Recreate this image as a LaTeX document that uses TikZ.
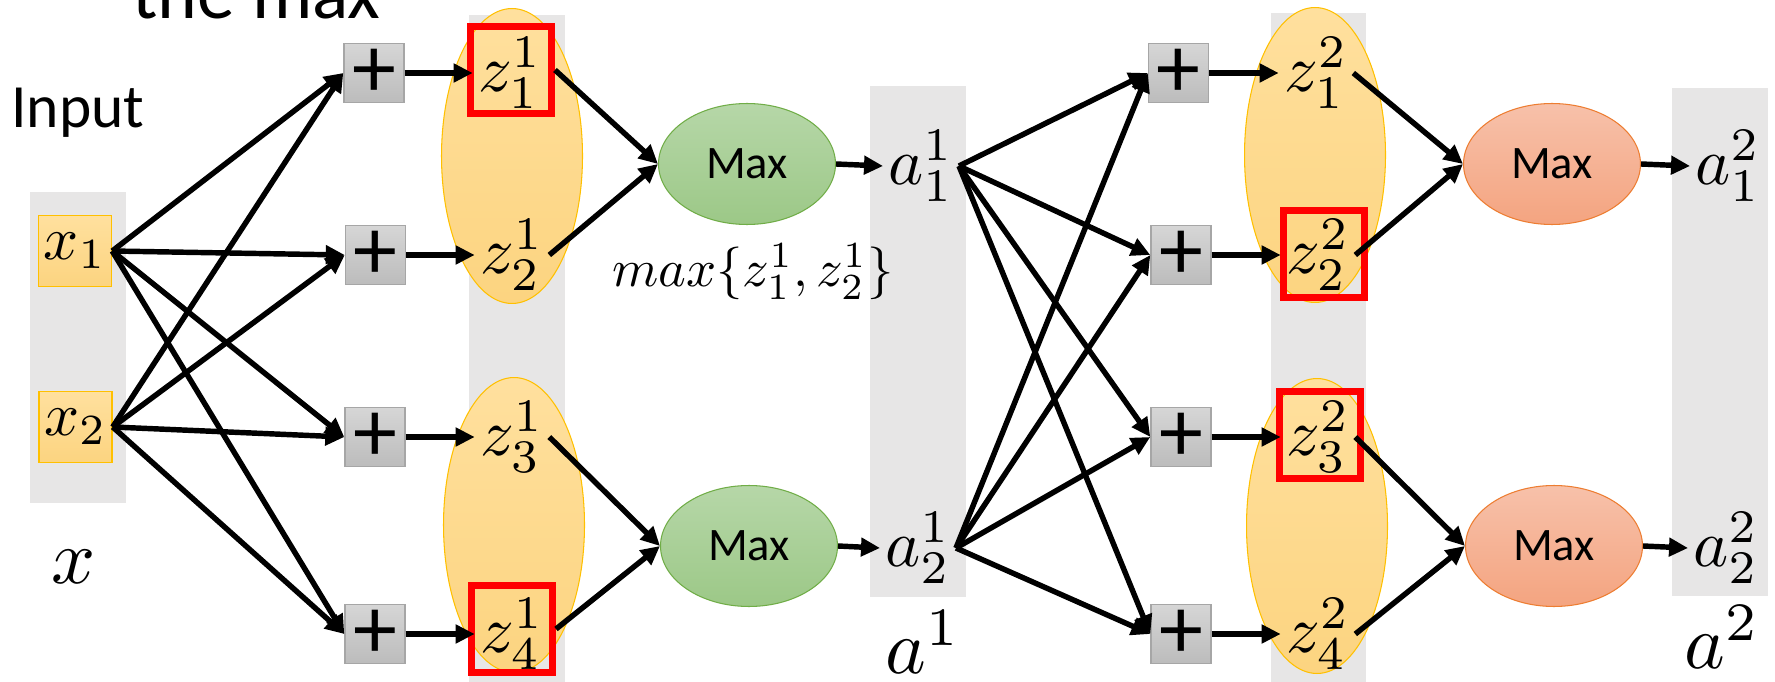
\documentclass[tikz,border=0pt]{standalone}
\usepackage{graphicx}
\usepackage[no-math]{fontspec}
\setmainfont{Carlito}
\usetikzlibrary{arrows.meta,shapes.geometric}
\definecolor{colbg}{RGB}{231,230,230}
\definecolor{orT}{RGB}{255,224,158}
\definecolor{orB}{RGB}{252,212,128}
\definecolor{orD}{RGB}{255,192,0}
\definecolor{grT}{RGB}{182,215,168}
\definecolor{grB}{RGB}{156,200,135}
\definecolor{grD}{RGB}{112,173,71}
\definecolor{saT}{RGB}{247,193,170}
\definecolor{saB}{RGB}{244,164,128}
\definecolor{saD}{RGB}{237,125,49}
\definecolor{plT}{RGB}{214,214,214}
\definecolor{plB}{RGB}{188,188,188}
\definecolor{plD}{RGB}{166,166,166}
\newcommand{\zm}[1]{\scalebox{3.8}{$#1$}}
\newcommand{\xm}[1]{\scalebox{3.5}{$#1$}}
\newcommand{\bm}[1]{\scalebox{4.4}{$#1$}}
\newcommand{\mm}[1]{\scalebox{3.0}{$#1$}}
\newcommand{\plusfs}{\fontsize{50}{54}\selectfont}
\newcommand{\maxfs}{\fontsize{26.5}{30}\selectfont}
\newcommand{\inputfs}{\fontsize{35}{40}\selectfont}
\newcommand{\titlefs}{\fontsize{43}{48}\selectfont}
\tikzset{
  colbox/.style={fill=colbg},
  grp/.style={ellipse, draw=orD, line width=0.6pt, top color=orT, bottom color=orB,
    minimum width=2.82cm, minimum height=5.9cm, inner sep=0pt},
  inbox/.style={rectangle, draw=orD, line width=0.8pt, top color=orT, bottom color=orB,
    minimum width=1.46cm, minimum height=1.42cm, inner sep=0pt},
  plusbox/.style={rectangle, draw=plD, line width=0.8pt, top color=plT, bottom color=plB,
    minimum width=1.2cm, minimum height=1.18cm, inner sep=0pt, font=\plusfs},
  maxg/.style={ellipse, draw=grD, line width=0.6pt, top color=grT, bottom color=grB,
    minimum width=3.54cm, minimum height=2.42cm, inner sep=0pt, font=\maxfs},
  maxo/.style={ellipse, draw=saD, line width=0.6pt, top color=saT, bottom color=saB,
    minimum width=3.54cm, minimum height=2.42cm, inner sep=0pt, font=\maxfs},
  lab/.style={inner sep=0.1cm},
  biglab/.style={inner sep=0pt},
  hl/.style={rectangle, draw=red, line width=4pt, minimum width=1.62cm,
    minimum height=1.74cm, inner sep=0pt},
  arr/.style={line width=3.1pt, -{Triangle[length=0.38cm,width=0.36cm]}}
}
\begin{document}
\begin{tikzpicture}[x=0.02cm,y=-0.02cm]
\useasboundingbox (0,0) rectangle (1775,682);
\clip (0,0) rectangle (1775,682);
% grey columns
\fill[colbox] (29.5,192) rectangle (125.5,503);
\fill[colbox] (469,15) rectangle (564.5,682);
\fill[colbox] (870,86) rectangle (965.5,597);
\fill[colbox] (1271,13) rectangle (1366,682);
\fill[colbox] (1672,88) rectangle (1768,596);
% group ellipses
\node[grp] (g1) at (512,156) {};
\node[grp] (g2) at (514,525) {};
\node[grp] (g3) at (1315,155) {};
\node[grp] (g4) at (1317,526) {};
% titles
\node[anchor=base west, inner sep=0pt, font=\titlefs] (title) at (132,19) {the max};
\node[anchor=base west, inner sep=0pt, font=\inputfs] (input) at (11,128) {Input};
% inputs
\node[inbox] (x1) at (75,251) {\xm{x_1}};
\node[inbox] (x2) at (75.5,427) {\xm{x_2}};
\node[biglab] (xl) at (74,567) {\bm{x}};
% plus boxes layer 1
\node[plusbox] (p1) at (374,73) {+};
\node[plusbox] (p2) at (375.5,255) {+};
\node[plusbox] (p3) at (375,437) {+};
\node[plusbox] (p4) at (375,634) {+};
% z layer 1
\node[lab] (z1) at (510,73) {\zm{z^1_1}};
\node[lab] (z2) at (512,255) {\zm{z^1_2}};
\node[lab] (z3) at (512,437) {\zm{z^1_3}};
\node[lab] (z4) at (512,634) {\zm{z^1_4}};
\node[hl] (h1) at (511,70) {};
\node[hl] (h4) at (512,629) {};
% max layer 1
\node[maxg] (m1) at (747,164) {Max};
\node[maxg] (m2) at (749,546) {Max};
\node[inner sep=0pt] (ml) at (753,272) {\mm{max\{z^1_1,z^1_2\}}};
% a layer 1
\node[lab] (a1) at (921,166) {\zm{a^1_1}};
\node[lab] (a2) at (918,548) {\zm{a^1_2}};
\node[biglab] (al1) at (923,642) {\bm{a^1}};
% plus boxes layer 2
\node[plusbox] (q1) at (1178.5,73) {+};
\node[plusbox] (q2) at (1181,255) {+};
\node[plusbox] (q3) at (1181,437) {+};
\node[plusbox] (q4) at (1181,634) {+};
% z layer 2
\node[lab] (y1) at (1316,73) {\zm{z^2_1}};
\node[lab] (y2) at (1318,255) {\zm{z^2_2}};
\node[lab] (y3) at (1318,437) {\zm{z^2_3}};
\node[lab] (y4) at (1318,634) {\zm{z^2_4}};
\node[hl] (h2) at (1324,254) {};
\node[hl] (h3) at (1320,435) {};
% max layer 2
\node[maxo] (m3) at (1552,164) {Max};
\node[maxo] (m4) at (1554,546) {Max};
% outputs
\node[lab] (b1) at (1728,166) {\zm{a^2_1}};
\node[lab] (b2) at (1726,548) {\zm{a^2_2}};
\node[biglab] (al2) at (1722,637) {\bm{a^2}};
% connectors
\foreach \s in {x1,x2} \foreach \t in {p1,p2,p3,p4} \draw[arr] (\s.east) -- (\t.west);
\draw[arr] (p1.east) -- (z1.west);
\draw[arr] (p2.east) -- (z2.west);
\draw[arr] (p3.east) -- (z3.west);
\draw[arr] (p4.east) -- (z4.west);
\draw[arr] (h1.east) -- (m1.west);
\draw[arr] (z2.east) -- (m1.west);
\draw[arr] (z3.east) -- (m2.west);
\draw[arr] (h4.east) -- (m2.west);
\draw[arr] (m1.east) -- (a1.west);
\draw[arr] (m2.east) -- (a2.west);
\foreach \s in {a1,a2} \foreach \t in {q1,q2,q3,q4} \draw[arr] (\s.east) -- (\t.west);
\draw[arr] (q1.east) -- (y1.west);
\draw[arr] (q2.east) -- (y2.west);
\draw[arr] (q3.east) -- (y3.west);
\draw[arr] (q4.east) -- (y4.west);
\draw[arr] (y1.east) -- (m3.west);
\draw[arr] (y2.east) -- (m3.west);
\draw[arr] (y3.east) -- (m4.west);
\draw[arr] (y4.east) -- (m4.west);
\draw[arr] (m3.east) -- (b1.west);
\draw[arr] (m4.east) -- (b2.west);
\end{tikzpicture}
\end{document}
